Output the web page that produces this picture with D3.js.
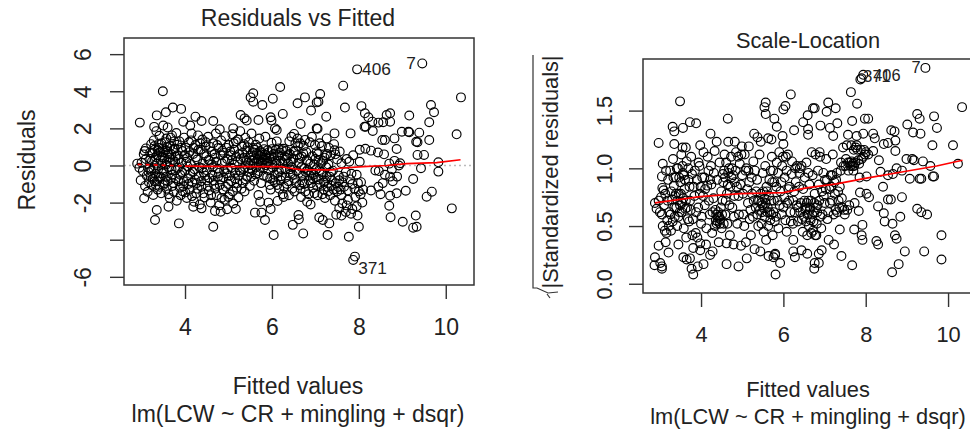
<!DOCTYPE html>
<html>
<head>
<meta charset="utf-8">
<script src="https://cdn.jsdelivr.net/npm/d3@7"></script>
<style>
  html, body { margin: 0; padding: 0; background: #fff; overflow: hidden; }
  text { font-family: "Liberation Sans", Arial, sans-serif; fill: #222; }
</style>
</head>
<body>
<div id="chart"></div>
<script>
// values: [fitted, residual]
const residOuter = [
[2.96,2.31],[3.49,4.0],[3.35,2.7],[3.56,2.87],[3.72,3.12],[3.91,3.05],[4.24,2.63],[4.38,2.4],[4.65,2.4],[3.96,2.36],[4.12,2.15],[4.8,1.95],[5.11,2.0],[5.28,2.72],[5.37,2.54],[5.42,2.42],[5.51,3.67],[5.57,3.89],[5.57,3.44],[5.78,3.26],[6.02,3.6],[6.19,4.23],[6.25,2.78],[5.97,2.6],[5.99,2.42],[5.69,2.45],[6.07,2.0],[6.11,1.91],[6.59,3.35],[6.76,3.67],[6.9,2.96],[7.03,3.4],[7.07,3.44],[7.11,3.85],[7.25,2.63],[6.66,2.24],[7.03,2.0],[7.05,1.98],[7.64,4.3],[7.68,3.12],[7.44,1.73],[7.26,1.46],[7.81,1.73],[7.96,5.18],[9.46,5.5],[10.35,3.67],[8.06,3.2],[8.14,2.81],[8.22,2.6],[8.13,2.09],[8.16,2.09],[8.32,1.86],[8.31,2.36],[8.45,2.31],[8.56,2.33],[8.64,2.72],[8.72,2.81],[8.72,2.36],[8.54,1.37],[8.6,1.37],[8.82,1.46],[8.87,.89],[8.99,1.82],[9.14,1.82],[9.16,1.79],[9.16,2.69],[9.39,1.77],[9.32,1.28],[9.35,1.25],[9.66,3.26],[9.73,2.87],[9.62,2.33],[9.62,1.37],[10.25,1.68],[9.35,.57],[9.5,.57],[9.83,.17],[8.95,.12],[9.83,-.33],[9.43,-.15],[9.25,-.73],[9.08,-1.36],[9.68,-1.41],[9.56,-1.68],[10.14,-2.31],[8.87,-1.5],[8.72,-1.63],[8.7,-2.17],[8.73,-2.79],[9.01,-3.03],[9.31,-2.7],[9.25,-3.35],[9.33,-3.3],[8.0,-3.3],[7.97,-2.7],[7.77,-3.84],[7.91,-4.91],[7.87,-5.09],[7.28,-3.75],[6.72,-3.66],[6.04,-3.75],[6.48,-3.2],[6.61,-2.67],[6.62,-2.9],[7.09,-2.8],[7.17,-2.94],[7.32,-3.12],[5.84,-2.94],[5.61,-2.54],[5.76,-2.54],[5.97,-2.35],[4.65,-3.3],[3.86,-3.12],[3.31,-2.94],[3.35,-2.4],[3.06,-1.77],[3.27,-1.59],[3.62,-2.22],[4.19,-2.22],[4.38,-2.31],[4.69,-2.45],[4.82,-2.49],[4.97,-2.36],[5.17,-2.35],[5.73,-1.95],[5.92,-2.0],[5.69,-1.59],[6.13,-1.91],[8.28,.8],[8.02,.85],[8.15,.9],[8.44,.7],[8.58,.6],[8.02,.2],[7.87,.55],[7.72,.35],[8.38,-.27],[8.46,-.3],[8.6,-.5],[8.72,-.6],[8.78,-.85],[8.55,-.95],[8.45,-1.15],[8.28,-1.35],[8.1,-1.3],[8.5,-1.55],[8.88,-.6],[8.82,.25],[8.92,0],[8.7,.1],[8.76,-.2],[7.95,-.5],[7.8,-.75],[8.05,-.9],[7.65,-.6],[7.55,-.8],[7.85,-1.0],[8.0,-1.4],[7.92,-1.7],[8.08,-2.0],[7.75,-1.85],[7.6,-1.6],[7.5,-1.4],[7.45,-1.9],[7.55,-2.3],[7.7,-2.5],[7.48,-2.65],[7.6,-2.7],[7.85,-2.35],[7.82,-2.6]
];
const residDense = [
[2.9,.1],[2.95,-.12],[3.0,.15],[2.98,-.8],[3.03,-.3],[3.05,.6],[3.07,.78],[3.1,.92],[3.12,-.55],[3.08,-1.1],[3.14,-1.42],[3.17,-.9],[3.2,.35],[3.18,-.18],[3.22,1.15],[3.25,.68],
[3.26,-.72],[3.28,1.35],[3.3,.85],[3.31,.3],[3.32,-.45],[3.33,-1.05],[3.29,2.08],[3.34,1.85],[3.36,.55],[3.38,-.2],[3.37,-1.3],[3.4,.95],[3.41,1.6],[3.43,.72],[3.44,-.62],[3.45,-1.5],
[3.46,1.2],[3.48,.45],[3.5,2.15],[3.52,-.35],[3.53,-.95],[3.55,.82],[3.57,1.45],[3.58,-1.25],[3.6,2.05],[3.61,.62],[3.63,-.1],[3.65,-1.75],[3.66,1.05],[3.68,-.72],[3.7,1.62],[3.72,.3],
[3.74,-1.42],[3.76,.9],[3.78,-.25],[3.8,1.75],[3.81,-1.9],[3.83,.55],[3.85,-.85],[3.87,1.3],[3.89,-.5],[3.9,-1.6],[3.92,.15],[3.94,.78],[3.96,-1.12],[3.98,1.5],[4.0,-.3],[4.02,.95],
[4.04,-1.75],[4.05,.4],[4.07,-.68],[4.09,1.25],[4.11,-1.3],[4.13,.08],[4.15,1.72],[4.17,-.92],[4.19,.62],[4.21,-1.95],[4.22,-.2],[4.24,1.1],[4.26,-1.5],[4.28,.32],[4.3,1.62],[4.32,-.6],
[4.34,-2.1],[4.36,.85],[4.38,-1.15],[4.4,1.4],[4.41,.1],[4.43,-.38],[4.45,-1.72],[4.47,1.02],[4.49,.5],[4.51,-.8],[4.53,1.55],[4.55,-1.35],[4.57,.25],[4.59,-2.0],[4.61,.75],[4.63,-.5],
[4.65,1.2],[4.67,-1.05],[4.69,.42],[4.71,1.72],[4.73,-1.6],[4.75,-.18],[4.77,.95],[4.79,-2.15],[4.81,-.75],[4.83,1.35],[4.85,.12],[4.87,-1.3],[4.89,.68],[4.91,-1.85],[4.93,1.58],[4.95,-.42],
[4.97,.35],[4.99,-1.0],[5.01,1.1],[5.03,-1.55],[5.05,.55],[5.07,-.12],[5.09,1.68],[5.11,-2.05],[5.13,.85],[5.15,-.7],[5.17,1.3],[5.19,-1.2],[5.21,.22],[5.23,-1.72],[5.25,.62],[5.27,1.85],
[5.29,-.35],[5.31,1.02],[5.33,-.95],[5.35,.42],[5.37,-1.4],[5.39,1.5],[5.41,.78],[5.43,-.6],[5.45,.15],[5.47,1.25],[5.49,-1.1],[5.51,.55],[5.53,1.72],[5.55,-.25],[5.57,.95],[5.59,-.82],
[5.61,.38],[5.63,1.12],[5.65,.62],[5.67,-.42],[5.69,.22],[5.71,1.45],[5.73,.78],[5.75,-.95],[5.76,.45],[5.78,.1],[5.8,-.15],[5.82,.88],[5.83,.32],[5.85,1.55],[5.87,.55],[5.89,-.62],
[5.91,.18],[5.93,.72],[5.95,-1.05],[5.97,-1.3],[5.99,1.22],[6.01,.05],[6.03,-.8],[6.05,.42],[6.07,-.9],[6.09,.85],[6.11,1.3],[6.13,-.4],[6.15,.92],[6.17,-1.25],[6.19,.25],[6.21,-.58],
[6.23,.82],[6.25,-1.55],[6.27,-1.7],[6.29,.5],[6.31,-.2],[6.33,.78],[6.35,-1.0],[6.37,.12],[6.39,-1.6],[6.41,.62],[6.43,-.45],[6.45,1.55],[6.47,-1.25],[6.49,.35],[6.51,1.7],[6.53,-.72],
[6.55,.8],[6.57,-.3],[6.59,1.45],[6.61,.15],[6.63,-1.05],[6.65,1.2],[6.67,-1.7],[6.69,.48],[6.71,-.55],[6.73,1.05],[6.75,-.15],[6.77,-1.4],[6.79,.72],[6.81,-1.95],[6.83,.22],[6.85,-.8],
[6.87,1.25],[6.89,-2.1],[6.91,-.4],[6.93,.5],[6.95,-1.2],[6.97,.05],[6.99,1.1],[7.01,-.65],[7.03,.72],[7.05,-1.6],[7.07,.3],[7.09,-.25],[7.11,-1.0],[7.13,.12],[7.15,1.05],[7.17,-.48],
[7.19,-1.3],[7.21,.42],[7.23,-.82],[7.25,-.1],[7.27,.62],[7.29,-1.4],[7.31,.95],[7.33,-.6],[7.35,.55],[7.37,-1.1],[7.4,-.28],[7.43,1.15],[7.46,.6],[7.5,.32],[7.54,-.55],[7.6,.12],
[3.23,-1.05],[3.35,.1],[3.47,-.42],[3.58,.22],[3.73,-.95],[3.84,-.12],[3.95,-1.4],[4.06,-.05],[4.18,-.35],[4.27,-.95],[4.39,-.15],[4.5,-.25],[4.64,-.1],[4.76,-.6],[4.9,-.3],[5.02,-.55],
[5.14,.05],[5.26,-.25],[5.38,-.1],[5.5,.02],[5.62,-.48],[5.74,.6],[5.86,.02],[5.98,.5],[6.1,.1],[6.22,-.2],[6.34,.4],[6.46,-.1],[6.58,.55],[6.7,-.9],[6.82,-.25],[6.94,-.7]
];
const residExtra = [
[3.1,.35],[3.16,-.35],[3.21,-.62],[3.24,.22],[3.27,-.15],[3.33,.45],[3.36,-.85],[3.39,1.15],[3.42,-1.15],[3.47,.1],[3.5,-1.05],[3.51,.7],[3.54,1.25],[3.56,-.6],[3.59,.98],[3.62,-1.55],
[3.64,.42],[3.67,1.5],[3.69,-.2],[3.71,-1.1],[3.75,1.3],[3.77,.2],[3.79,-.7],[3.82,1.12],[3.86,.35],[3.88,-1.2],[3.91,.95],[3.93,-.35],[3.97,-.85],[3.99,.55],[4.01,-1.45],[4.03,.2],
[4.08,-1.0],[4.1,.72],[4.12,-.45],[4.14,1.35],[4.16,-1.65],[4.2,.95],[4.23,-.75],[4.25,.45],[4.29,-1.25],[4.31,.85],[4.33,-.1],[4.35,1.2],[4.37,-.85],[4.42,-1.5],[4.44,.65],[4.46,-.55],
[4.48,1.25],[4.52,-1.1],[4.54,.3],[4.56,-.68],[4.58,1.0],[4.6,-1.6],[4.62,.05],[4.66,-.82],[4.68,.62],[4.7,-1.25],[4.72,.2],[4.74,1.1],[4.78,-.4],[4.8,-1.05],[4.82,.55],[4.84,-1.75],
[4.86,.8],[4.88,-.65],[4.92,.22],[4.94,-1.15],[4.96,.95],[4.98,-.2],[5.0,-1.7],[5.04,.75],[5.06,-.85],[5.08,.28],[5.1,-1.4],[5.12,1.2],[5.16,-.4],[5.18,.48],[5.2,-.95],[5.22,1.4],
[5.24,-.55],[5.28,.35],[5.3,-1.25],[5.32,.68],[5.34,-.2],[5.36,1.15],[5.4,-.75],[5.42,.25],[5.44,.98],[5.46,-.35],[5.48,.42],[5.52,-.6],[5.54,.28],[5.56,.72],[5.58,.12],[5.6,.85],
[5.64,-.1],[5.66,.95],[5.68,.35],[5.7,-.3],[5.72,.52],[5.74,.15],[5.77,.68],[5.79,.3],[5.81,-.55],[5.84,.6],[5.86,.42],[5.88,.12],[5.9,.82],[5.92,-.25],[5.94,.38],[5.96,-.7],
[6.0,.88],[6.02,-.12],[6.04,.62],[6.06,-.5],[6.08,.25],[6.12,-1.05],[6.14,.55],[6.16,-.3],[6.18,.7],[6.2,-.8],[6.24,.12],[6.26,.9],[6.28,-1.15],[6.3,.3],[6.32,-.65],[6.36,.55],
[6.38,-.85],[6.4,1.3],[6.42,-.2],[6.44,.2],[6.48,-.5],[6.5,.75],[6.52,-1.4],[6.54,1.2],[6.56,-.95],[6.6,1.05],[6.62,-.4],[6.64,.4],[6.66,-1.25],[6.68,-.1],[6.72,.65],[6.74,-1.0],
[6.76,1.38],[6.78,-.35],[6.8,.3],[6.84,-1.55],[6.86,-.55],[6.88,.1],[6.9,-.95],[6.92,1.55],[6.96,-.5],[6.98,-1.5],[7.0,.35],[7.02,-.2],[7.04,-1.1],[7.06,.62],[7.08,-.75],[7.1,1.2],
[7.14,-.35],[7.16,-1.55],[7.18,.25],[7.2,-.9],[7.22,-1.75],[7.24,.55],[7.26,-.6],[7.28,-1.15],[7.3,.05],[7.34,-1.6],[7.36,-.35],[7.38,-.8],[7.42,-1.3],[7.44,.82],[7.47,-.95],[7.52,-1.15],
[7.56,.75],[7.58,-1.3],[7.62,-.9],[7.66,-1.15],[7.7,-.35],[7.74,-1.35],[7.78,.2],[7.83,-.45],[7.9,-1.25],[7.98,-.95],[8.04,-1.55],[7.62,-2.05],[7.72,-2.15],[7.95,-2.2],[3.2,.7],[3.3,1.05],
[3.38,.82],[3.44,.3],[3.49,.92],[3.53,.4],[3.57,.05],[3.6,.75],[3.65,.18],[3.68,.6],[3.73,.85],[3.78,.48],[3.22,-.3],[3.3,-.85],[3.4,-.6],[3.5,-.25],[3.6,-.85],[3.7,-.5]
];
const residLineDashed = [[2.91,.06],[4.0,-.03]];
const residLine = [[4.0,-.03],[5.11,-.06],[6.22,-.06],[6.35,-.12],[6.69,-.24],[7.41,-.24],[7.55,-.15],[8.1,-.06],[8.64,0],[9.1,.1],[9.79,.15],[10.34,.31]];
const residLabels = [["406",7.96,5.18],["7",9.46,5.5],["371",7.87,-5.09]];

// [fitted, sqrt of abs standardized residual]
const scaleOuter = [
[9.45,1.87],[7.94,1.81],[7.9,1.78],[7.87,1.77],[7.64,1.66],[7.79,1.56],[6.18,1.64],[6.0,1.51],[6.05,1.54],[5.57,1.57],[5.54,1.53],[5.57,1.47],[5.78,1.43],[5.84,1.36],[6.26,1.33],[6.72,1.52],[6.76,1.52],[6.59,1.46],[6.48,1.4],[7.09,1.57],[7.05,1.49],[7.27,1.52],[6.9,1.37],[7.13,1.35],[7.31,1.39],[6.6,1.34],[6.6,1.29],[7.21,1.28],[7.67,1.41],[7.98,1.43],[8.06,1.43],[7.57,1.29],[7.78,1.28],[7.94,1.3],[8.18,1.3],[8.22,1.26],[8.62,1.33],[8.7,1.32],[8.72,1.24],[8.44,1.21],[8.54,1.22],[8.72,1.15],[9.01,1.38],[9.15,1.31],[9.33,1.3],[9.25,1.47],[9.31,1.43],[9.66,1.45],[9.73,1.35],[9.62,1.2],[10.12,1.2],[10.34,1.53],[10.24,1.04],[3.49,1.58],[3.31,1.36],[3.35,1.32],[3.56,1.35],[3.73,1.4],[3.88,1.39],[4.65,1.43],[4.23,1.3],[2.97,1.22],[3.35,1.21],[3.55,1.18],[3.63,1.18],[3.98,1.2],[4.38,1.23],[4.66,1.23],[4.82,1.23],[4.99,1.19],[5.16,1.19],[5.29,1.3],[5.37,1.27],[5.45,1.23],[5.63,1.26],[5.71,1.25],[5.98,1.28],[6.0,1.21],[3.07,1.04],[3.05,.93],[3.09,.81],[8.32,1.07],[8.18,1.15],[8.06,1.12],[8.99,1.08],[9.13,1.08],[9.17,1.07],[9.39,1.06],[9.57,1.02],[8.75,1.0],[8.88,.98],[9.07,.91],[9.31,.91],[9.35,.91],[9.63,.93],[9.66,.93],[8.36,.97],[8.54,.94],[8.66,.95],[8.02,.93],[8.42,.84],[8.54,.73],[8.61,.73],[8.88,.75],[8.3,.67],[8.44,.61],[8.46,.54],[8.65,.52],[8.84,.58],[9.25,.65],[9.35,.62],[9.49,.6],[9.84,.42],[8.71,.42],[8.75,.39],[8.26,.37],[8.3,.34],[8.95,.28],[9.42,.28],[9.84,.21],[8.8,.17],[8.64,.1],[7.67,.16],[7.41,.24],[7.92,.51],[7.72,.47],[7.9,.42],[7.92,.38],[7.83,.63],[7.73,.7],[7.86,.79],[8.02,.78],[8.08,.75],[7.23,.34],[7.37,.47],[6.93,.29],[6.86,.26],[6.75,.13],[6.76,.18],[6.86,.18],[5.81,.08],[5.92,.18],[5.8,.25],[5.76,.23],[6.08,.45],[6.24,.38],[6.24,.28],[6.28,.23],[6.44,.29],[6.58,.26],[5.11,.22],[4.91,.15],[4.62,.17],[3.81,.08],[4.06,.17],[3.92,.15],[3.77,.13],[3.57,.23],[3.65,.21],[3.73,.22],[2.88,.23],[2.87,.16],[3.01,.18],[3.05,.13],[3.05,.15],[2.97,.33],[3.21,.27],[3.14,.36],[3.45,.34],[3.64,.4],[3.81,.31],[3.98,.29],[3.98,.35],[4.22,.25],[4.28,.28]
];
const scaleDense = [
[2.88,.7],[2.92,.65],[2.97,.72],[3.0,.62],[3.03,.75],[3.05,.6],[3.07,.5],[3.1,.68],[3.13,.78],[3.16,.44],[3.18,.55],[3.2,.9],[3.23,.62],[3.25,.98],[3.27,.46],[3.3,.73],
[3.32,1.08],[3.34,.85],[3.36,.58],[3.38,.92],[3.4,.66],[3.42,.5],[3.44,1.0],[3.46,.78],[3.48,.62],[3.5,.88],[3.52,1.12],[3.54,.7],[3.56,.96],[3.58,.48],[3.6,.82],[3.62,.65],
[3.65,1.06],[3.68,.56],[3.7,.9],[3.73,.72],[3.76,1.1],[3.79,.42],[3.82,.84],[3.85,.98],[3.88,.62],[3.91,.4],[3.94,1.05],[3.97,.78],[4.0,.52],[4.03,.92],[4.06,1.14],[4.09,.68],
[4.12,.34],[4.15,.85],[4.18,.98],[4.21,.6],[4.24,1.02],[4.27,.44],[4.3,.74],[4.33,1.15],[4.36,.55],[4.39,.9],[4.41,.58],[4.43,.36],[4.45,1.05],[4.47,.56],[4.49,.8],[4.51,.6],
[4.53,.95],[4.55,.52],[4.57,1.12],[4.6,.72],[4.62,.35],[4.65,.86],[4.68,1.0],[4.7,.42],[4.73,1.1],[4.76,.66],[4.79,.34],[4.82,.88],[4.85,1.14],[4.88,.52],[4.91,.76],[4.94,1.04],
[4.97,.33],[5.0,.94],[5.03,.6],[5.06,1.12],[5.09,.36],[5.12,.82],[5.15,.98],[5.18,.56],[5.21,.42],[5.24,.78],[5.27,1.06],[5.3,.3],[5.33,.66],[5.36,.9],[5.39,.5],[5.42,1.12],
[5.44,.28],[5.46,.7],[5.48,.62],[5.5,.96],[5.52,.45],[5.54,.74],[5.56,1.02],[5.58,.38],[5.6,.8],[5.62,.66],[5.64,.24],[5.66,.9],[5.68,.55],[5.7,.72],[5.72,1.1],[5.74,.42],
[5.76,.62],[5.78,.88],[5.8,.26],[5.82,.58],[5.84,1.05],[5.86,.72],[5.88,.48],[5.9,1.14],[5.93,.8],[5.96,.6],[5.99,1.1],[6.02,.75],[6.05,.55],[6.08,.98],[6.11,1.12],[6.14,.72],
[6.17,.62],[6.2,.95],[6.23,.52],[6.26,.8],[6.29,1.0],[6.32,.68],[6.35,.54],[6.38,.84],[6.41,.62],[6.44,1.02],[6.47,.45],[6.5,.58],[6.52,.92],[6.54,.66],[6.56,1.05],[6.58,.42],
[6.6,.72],[6.63,.86],[6.66,.55],[6.69,1.14],[6.72,.46],[6.74,.62],[6.76,.78],[6.78,1.12],[6.8,.42],[6.83,.68],[6.86,.86],[6.89,1.1],[6.92,.48],[6.95,.6],[6.98,.76],[7.01,.9],
[7.04,1.08],[7.07,.56],[7.1,.38],[7.13,.7],[7.16,.84],[7.19,.94],[7.22,.6],[7.25,.78],[7.28,.9],[7.31,.62],[7.34,.72],[7.37,.84],[7.4,1.05],[7.43,.66],[7.46,1.02],[7.49,.6],
[7.52,1.08],[7.55,.64],[7.58,.98],[7.61,1.05],[7.65,1.2],[7.68,1.02],[7.71,1.16],[7.75,1.05],[7.78,1.2],[7.82,1.07],[7.88,1.16],[7.94,1.1],[7.98,1.12],[8.0,1.14],[7.7,.98],[7.85,.92]
];
const scaleExtra = [
[3.06,.83],[3.12,.46],[3.15,.98],[3.19,.72],[3.22,.5],[3.26,.6],[3.28,.8],[3.31,.54],[3.33,.92],[3.35,.66],[3.37,.76],[3.39,.78],[3.41,1.0],[3.43,.72],[3.45,.58],[3.47,.92],
[3.49,.68],[3.51,.78],[3.53,.62],[3.55,1.02],[3.57,.74],[3.59,.94],[3.61,.9],[3.63,.72],[3.66,.66],[3.69,1.0],[3.71,.54],[3.72,.84],[3.75,.64],[3.78,.95],[3.8,.56],[3.84,.76],
[3.87,.44],[3.9,.9],[3.93,.66],[3.96,1.02],[3.99,.84],[4.02,.58],[4.05,.76],[4.08,.92],[4.1,.82],[4.13,.48],[4.16,1.1],[4.19,.72],[4.22,.9],[4.25,.86],[4.28,.62],[4.31,.96],
[4.34,.5],[4.35,.64],[4.37,.6],[4.38,.52],[4.4,.54],[4.42,.62],[4.44,.58],[4.46,.52],[4.48,.66],[4.5,.48],[4.52,.72],[4.54,.88],[4.56,.98],[4.58,.92],[4.59,.6],[4.61,1.05],
[4.63,.78],[4.64,.52],[4.66,.96],[4.69,.68],[4.71,.84],[4.74,.92],[4.75,1.0],[4.78,.94],[4.8,.58],[4.81,.76],[4.84,.98],[4.87,.84],[4.9,1.1],[4.92,.6],[4.96,.86],[4.98,1.12],
[5.02,.78],[5.05,.5],[5.08,.98],[5.1,1.0],[5.14,.7],[5.17,.88],[5.2,.64],[5.23,.92],[5.26,.58],[5.28,.72],[5.31,.98],[5.34,.8],[5.37,.6],[5.38,.72],[5.41,.72],[5.43,.64],
[5.45,.78],[5.47,.52],[5.49,.68],[5.51,.8],[5.53,.66],[5.55,.58],[5.57,.7],[5.59,.84],[5.61,.62],[5.63,.5],[5.65,.76],[5.67,.62],[5.69,.98],[5.71,.6],[5.73,.88],[5.75,.98],
[5.77,.72],[5.79,.54],[5.83,.84],[5.87,.96],[5.91,.68],[5.95,.88],[5.97,1.02],[6.0,.66],[6.03,.92],[6.06,1.1],[6.09,.7],[6.12,.82],[6.15,.84],[6.18,.54],[6.21,1.06],[6.24,.72],
[6.27,.62],[6.3,.88],[6.33,1.02],[6.36,.66],[6.39,.96],[6.4,1.0],[6.42,.7],[6.45,.56],[6.48,.82],[6.51,.72],[6.53,.64],[6.55,.54],[6.57,.7],[6.59,.6],[6.61,.96],[6.62,.5],
[6.64,.64],[6.65,.66],[6.67,.72],[6.68,.44],[6.7,.6],[6.71,.94],[6.73,.54],[6.75,.7],[6.77,.42],[6.79,.66],[6.81,.52],[6.82,.62],[6.84,.98],[6.87,.72],[6.88,1.14],[6.9,.58],
[6.94,.8],[6.97,.96],[7.0,.7],[7.03,.82],[7.06,.9],[7.09,.62],[7.12,.82],[7.15,.94],[7.18,.72],[7.2,1.12],[7.24,.88],[7.27,.64],[7.3,.96],[7.33,.8],[7.36,.66],[7.39,.98],
[7.42,.74],[7.45,1.18],[7.48,.64],[7.51,1.02],[7.54,1.2],[7.57,1.05],[7.6,.68],[7.63,1.02],[7.66,1.06],[7.69,1.04],[7.72,1.02],[7.76,1.18],[7.8,1.16],[7.84,1.04],[7.9,1.08],[7.96,1.16]
];
const scaleLine = [[2.88,.7],[3.98,.755],[4.95,.78],[6.0,.79],[6.56,.83],[7.29,.865],[8.02,.915],[8.91,.97],[9.72,1.02],[10.35,1.07]];
const scaleLabels = [["371",7.87,1.77],["406",7.94,1.81],["7",9.45,1.87]];

const xTicks = [4, 6, 8, 10];
const residTicks = [-6, -4, -2, 0, 2, 4, 6];
const residShown = [-6, -2, 0, 2, 4, 6];
const scaleTicks = [0, 0.5, 1, 1.5];

const svg = d3.select("#chart").append("svg")
    .attr("width", 970)
    .attr("height", 430);

const drawPanel = function (p) {
    const x = d3.scaleLinear().domain(p.xDomain).range([p.left, p.right]);
    const y = d3.scaleLinear().domain(p.yDomain).range([p.bottom, p.top]);
    const g = svg.append("g");
    const path = d3.line().x(d => x(d[0])).y(d => y(d[1]));

    // X axis
    const xAxis = g.append("g")
        .attr("transform", `translate(0,${p.bottom})`)
        .call(d3.axisBottom(x).tickValues(xTicks).tickSize(14).tickPadding(20).tickFormat(d3.format("d")));
    xAxis.select(".domain").remove();
    xAxis.selectAll("line").attr("stroke", "#333").attr("stroke-width", 1.4);
    xAxis.selectAll("text").attr("font-size", p.font).attr("fill", "#222");

    // Y axis, labels turned like R does
    const yAxis = g.append("g")
        .attr("transform", `translate(${p.left},0)`)
        .call(d3.axisLeft(y).tickValues(p.yTicks).tickSize(14).tickFormat(p.yFormat));
    yAxis.select(".domain").remove();
    yAxis.selectAll("line").attr("stroke", "#333").attr("stroke-width", 1.4);
    yAxis.selectAll("text")
        .attr("font-size", p.font)
        .attr("fill", "#222")
        .attr("text-anchor", "middle")
        .attr("dy", null)
        .attr("x", null)
        .attr("transform", `translate(${p.yLabelX - p.left},0) rotate(-90)`);

    if (p.zero) {
        g.append("line")
            .attr("x1", p.left).attr("x2", p.right)
            .attr("y1", y(0)).attr("y2", y(0))
            .attr("stroke", "#bbb")
            .attr("stroke-width", 1.4)
            .attr("stroke-dasharray", "2,3");
    }

    // points
    g.selectAll("circle")
        .data(p.points)
        .join("circle")
        .attr("cx", d => x(d[0]))
        .attr("cy", d => y(d[1]))
        .attr("r", 4.4)
        .attr("fill", "none")
        .attr("stroke", "#000")
        .attr("stroke-width", 1.15);

    // smoother
    g.append("path")
        .datum(p.line)
        .attr("d", path)
        .attr("fill", "none")
        .attr("stroke", "#f00")
        .attr("stroke-width", 1.7);

    if (p.lineDashed) {
        g.append("path")
            .datum(p.lineDashed)
            .attr("d", path)
            .attr("fill", "none")
            .attr("stroke", "#f00")
            .attr("stroke-width", 1.7)
            .attr("stroke-dasharray", "4,4");
    }

    // point labels
    g.selectAll("text.id")
        .data(p.labels)
        .join("text")
        .attr("class", "id")
        .attr("x", d => x(d[1]) + p.labelOffset[d[0]][0])
        .attr("y", d => y(d[2]) + p.labelOffset[d[0]][1])
        .attr("font-size", p.font * 0.75)
        .attr("text-anchor", "start")
        .text(d => d[0]);

    // box
    g.append("rect")
        .attr("x", p.left).attr("y", p.top)
        .attr("width", p.right - p.left).attr("height", p.bottom - p.top)
        .attr("fill", "none")
        .attr("stroke", "#333")
        .attr("stroke-width", 1.5);

    g.append("text")
        .attr("x", p.titleX).attr("y", p.titleY)
        .attr("text-anchor", "middle")
        .attr("font-size", p.font)
        .text(p.title);

    g.append("text")
        .attr("x", p.titleX).attr("y", p.xLabelY)
        .attr("text-anchor", "middle")
        .attr("font-size", p.font)
        .text("Fitted values");

    g.append("text")
        .attr("x", p.titleX).attr("y", p.subY)
        .attr("text-anchor", "middle")
        .attr("font-size", p.font)
        .text("lm(LCW ~ CR + mingling + dsqr)");
};

drawPanel({
    left: 124, right: 474, top: 38, bottom: 285,
    xDomain: [2.596, 10.65], yDomain: [-6.44, 6.87],
    yTicks: residTicks,
    yFormat: d => residShown.includes(d) ? String(d) : "",
    yLabelX: 91,
    font: 23,
    points: residOuter.concat(residDense, residExtra),
    line: residLine,
    lineDashed: residLineDashed,
    labels: residLabels,
    labelOffset: { "406": [5, 6], "7": [-16, 6], "371": [5, 14] },
    zero: true,
    title: "Residuals vs Fitted",
    titleX: 298, titleY: 26, xLabelY: 394, subY: 422
});

drawPanel({
    left: 643, right: 974, top: 59, bottom: 293,
    xDomain: [2.59, 10.63], yDomain: [-0.08, 1.947],
    yTicks: scaleTicks,
    yFormat: d3.format(".1f"),
    yLabelX: 612,
    font: 21.8,
    points: scaleOuter.concat(scaleDense, scaleExtra),
    line: scaleLine,
    labels: scaleLabels,
    labelOffset: { "371": [3, 3], "406": [10, 6], "7": [-14, 5] },
    zero: false,
    title: "Scale-Location",
    titleX: 808, titleY: 48, xLabelY: 397, subY: 424
});

// y titles
svg.append("text")
    .attr("transform", "translate(35,160) rotate(-90)")
    .attr("text-anchor", "middle")
    .attr("font-size", 23)
    .text("Residuals");

svg.append("text")
    .attr("transform", "translate(558,172) rotate(-90)")
    .attr("text-anchor", "middle")
    .attr("font-size", 21.8)
    .text("|Standardized residuals|");

// radical sign, R draws it as a long bar over the text
svg.append("path")
    .attr("d", "M533,55V288H537L548,293L558,292M547,294L550,298")
    .attr("fill", "none")
    .attr("stroke", "#333")
    .attr("stroke-width", 1.2);
</script>
</body>
</html>
